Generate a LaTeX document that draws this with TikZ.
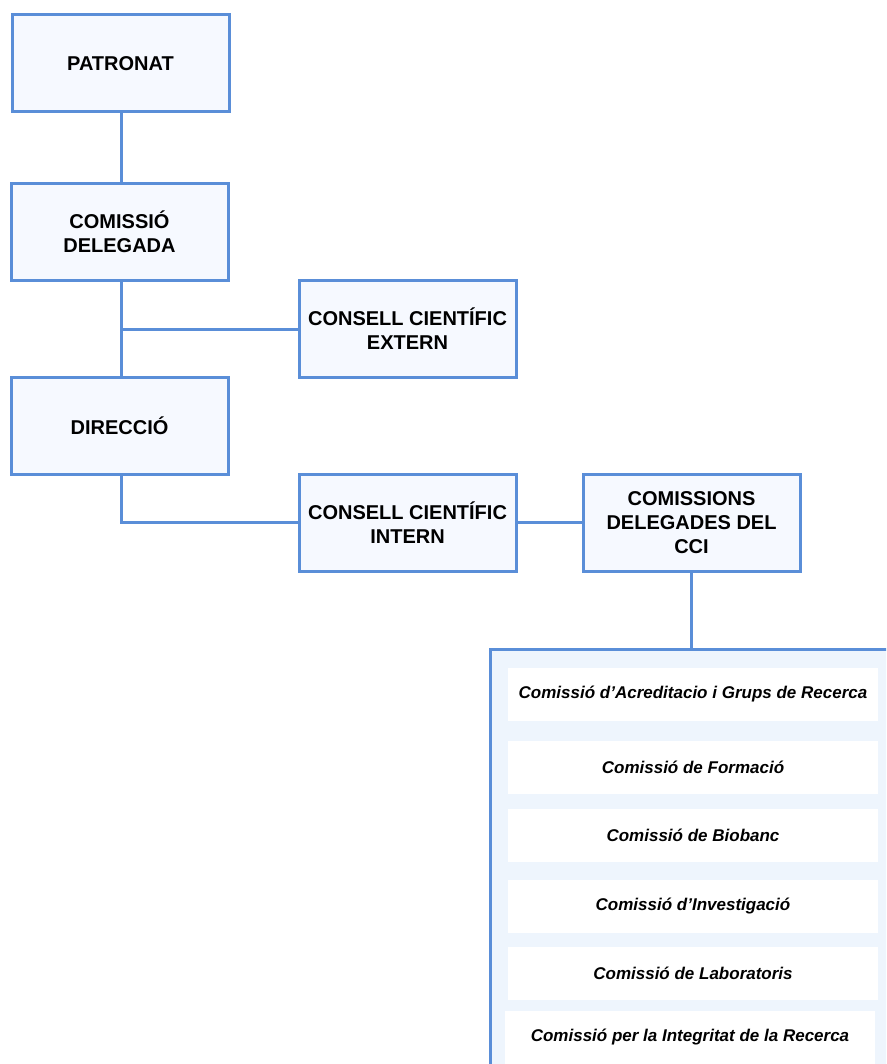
\documentclass[tikz,border=0pt]{standalone}
\usepackage{fontspec}
\setmainfont{Liberation Sans}
\definecolor{orgblue}{HTML}{5A8ED8}
\definecolor{boxfill}{HTML}{F6F9FF}
\definecolor{panelfill}{HTML}{EEF5FD}
\tikzset{
    orgbox/.style={draw=orgblue, line width=3pt, fill=boxfill, minimum width=217pt, minimum height=97pt,
        align=center, font=\fontsize{20}{24}\selectfont\bfseries, inner sep=0pt},
    itembox/.style={fill=white, minimum width=370pt, minimum height=53pt, inner sep=0pt,
        font=\fontsize{17}{20}\selectfont\bfseries\itshape},
    link/.style={draw=orgblue, line width=3pt}
}
\begin{document}
\begin{tikzpicture}[x=1pt, y=-1pt]
    \clip (0,0) rectangle (886,1064);

    % Governing bodies
    \node[orgbox] (patronat) at (120.5, 63.5) {PATRONAT};
    \node[orgbox] (comissio) at (119.5, 232) {COMISSIÓ\\DELEGADA};
    \node[orgbox] (cce) at (407.5, 329) {CONSELL CIENTÍFIC\\EXTERN};
    \node[orgbox] (direccio) at (119.5, 425.5) {DIRECCIÓ};
    \node[orgbox] (cci) at (407.5, 522.5) {CONSELL CIENTÍFIC\\INTERN};
    \node[orgbox] (comissions) at (691.5, 522.5) {COMISSIONS\\DELEGADES DEL\\CCI};

    % Panel of delegated commissions
    \node[draw=orgblue, line width=3pt, fill=panelfill, minimum width=420pt, minimum height=440pt,
        inner sep=0pt, anchor=north west] (panel) at (489, 648) {};
    \node[itembox] (c1) at (693, 694) {Comissió d’Acreditacio i Grups de Recerca};
    \node[itembox] (c2) at (693, 767.5) {Comissió de Formació};
    \node[itembox] (c3) at (693, 835.5) {Comissió de Biobanc};
    \node[itembox] (c4) at (693, 906.5) {Comissió d’Investigació};
    \node[itembox] (c5) at (693, 973) {Comissió de Laboratoris};
    \node[itembox] (c6) at (690, 1037) {Comissió per la Integritat de la Recerca};

    % Connectors
    \coordinate (spine) at (121, 0);
    \draw[link] (spine |- patronat.south) -- (spine |- comissio.north);
    \draw[link] (spine |- comissio.south) -- (spine |- direccio.north);
    \coordinate (split) at (spine |- cce.west);
    \draw[link] (split) -- (cce.west);
    \draw[link] (spine |- direccio.south) |- (cci.west);
    \draw[link] (cci.east) -- (comissions.west);
    \draw[link] (comissions.south) -- (comissions.south |- panel.north);
\end{tikzpicture}
\end{document}
